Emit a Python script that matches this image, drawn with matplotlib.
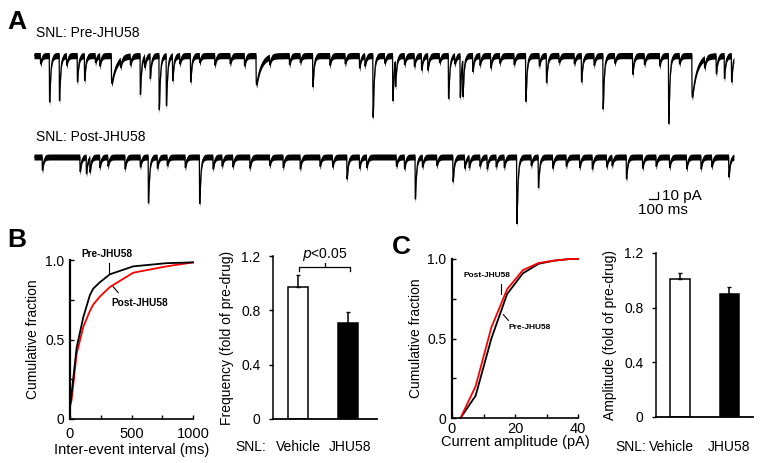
import numpy as np
import matplotlib.pyplot as plt

plt.rcParams['font.family'] = ['Liberation Sans', 'DejaVu Sans']

# ---- panel A: events (time s, amplitude pA) ----
pre_times = [0.17, 0.28, 0.48, 0.56, 0.86, 1.18, 1.29, 1.39, 1.47, 1.54, 1.74, 2.47,
             3.10, 3.62, 3.77, 3.99, 4.02, 4.31, 4.38, 4.61, 4.74, 4.77, 4.88, 5.08,
             5.47, 5.70, 6.09, 6.33, 6.66, 7.06, 7.32, 7.59, 7.68, 7.76]
pre_amps = [67, 65, 38, 36, 40, 56, 33, 78, 72, 36, 38, 42,
            45, 18, 89, 65, 38, 21, 21, 62, 60, 53, 23, 18,
            66, 39, 38, 77, 27, 98, 60, 26, 33, 38]
pre_slow = [0.86, 2.47, 7.32]
pre_small_times = [0.07, 0.36, 0.68, 0.73, 0.96, 1.07, 1.23, 1.62, 1.84, 2.01, 2.18, 2.34,
                   2.62, 2.84, 2.96, 3.29, 3.46, 3.68, 3.90, 4.12, 4.23, 4.51, 4.68, 4.96,
                   5.18, 5.34, 5.62, 5.84, 6.01, 6.23, 6.46, 6.79, 6.96, 7.18, 7.46]
pre_small_amps = [12, 14, 10, 15, 11, 13, 16, 12, 10, 14, 12, 15,
                  11, 13, 10, 14, 12, 15, 11, 13, 16, 10, 12, 14,
                  11, 13, 15, 10, 12, 14, 11, 13, 15, 12, 14]

post_times = [0.09, 0.51, 0.58, 0.62, 1.27, 1.84, 3.48, 4.24, 4.66, 5.37, 5.61, 6.59, 7.42, 7.73]
post_amps = [20, 22, 25, 22, 69, 70, 33, 63, 37, 100, 46, 33, 18, 30]
post_small_times = [0.73, 0.82, 1.01, 1.18, 1.37, 1.48, 1.68, 1.99, 2.09, 2.21, 2.40, 2.62,
                    2.77, 2.96, 3.18, 3.32, 3.62, 3.70, 4.03, 4.12, 4.32, 4.48, 4.79, 4.84,
                    4.96, 5.04, 5.14, 5.23, 5.53, 5.77, 5.92, 6.07, 6.21, 6.37, 6.43, 6.77,
                    6.92, 7.07, 7.26, 7.54]
post_small_amps = [16, 14, 18, 15, 17, 13, 16, 18, 14, 15, 17, 13,
                   16, 18, 14, 15, 17, 16, 14, 18, 15, 13, 17, 16,
                   14, 18, 15, 16, 13, 17, 14, 16, 18, 15, 13, 17,
                   14, 16, 18, 15]

# ---- panel B ----
iei_ms = [0, 13, 54, 108, 162, 189, 243, 324, 514, 784, 1000]
iei_pre = [0.08, 0.16, 0.45, 0.64, 0.78, 0.82, 0.86, 0.91, 0.96, 0.98, 0.985]
iei_post = [0.08, 0.12, 0.41, 0.58, 0.68, 0.72, 0.77, 0.83, 0.92, 0.96, 0.985]
groups = ['Vehicle', 'JHU58']
freq_mean = [0.97, 0.71]
freq_sem = [0.09, 0.075]

# ---- panel C ----
amp_pa = [2.7, 7.5, 12.5, 17.5, 22.5, 27.5, 32.5, 37.5, 40]
amp_pre = [0, 0.14, 0.50, 0.78, 0.91, 0.97, 0.99, 1.0, 1.0]
amp_post = [0, 0.20, 0.57, 0.81, 0.93, 0.975, 0.99, 1.0, 1.0]
ampl_mean = [1.01, 0.90]
ampl_sem = [0.045, 0.05]

W, H = 762, 463
fig = plt.figure(figsize=(W / 100, H / 100), dpi=100)
FS = 10


def box(l, t, r, b):
    return [l / W, 1 - b / H, (r - l) / W, (b - t) / H]


def trace(t, times, amps, slow):
    y = np.zeros_like(t)
    for t0, a in zip(times, amps):
        tau = 0.05 if t0 in slow else 0.012
        s = t - t0
        m = s > 0
        k = np.exp(-s[m] / tau) - np.exp(-s[m] / 0.002)
        y[m] -= a * k / k.max()
    return y


T = 7.79
t = np.arange(0, T, 0.001)
band = 4.5

axA1 = fig.add_axes(box(34, 40, 734, 125))
yA1 = trace(t, pre_times + pre_small_times, pre_amps + pre_small_amps, pre_slow)
axA1.fill_between(t, yA1 - band, yA1 + band, color='black', lw=0)
axA1.plot(t, yA1, color='black', lw=0.9)
axA1.set_xlim(0, T)
axA1.set_ylim(-100, 22.5)
axA1.axis('off')

axA2 = fig.add_axes(box(34, 142, 734, 232))
yA2 = trace(t, post_times + post_small_times, post_amps + post_small_amps, [])
axA2.fill_between(t, yA2 - band, yA2 + band, color='black', lw=0)
axA2.plot(t, yA2, color='black', lw=0.9)
axA2.set_xlim(0, T)
axA2.set_ylim(-112.5, 22.5)
axA2.axis('off')
# scale bar 100 ms / 10 pA
axA2.plot([6.84, 6.94, 6.94], [-63, -63, -53], color='black', lw=0.9)
axA2.text(6.99, -58, '10 pA', fontsize=11, va='center', ha='left')
axA2.text(6.72, -80, '100 ms', fontsize=11, va='center', ha='left')

fig.text(36 / W, 1 - 33 / H, 'SNL: Pre-JHU58', fontsize=10, va='center')
fig.text(36 / W, 1 - 137 / H, 'SNL: Post-JHU58', fontsize=10, va='center')
fig.text(7 / W, 1 - 22 / H, 'A', fontsize=19, fontweight='bold', va='center')
fig.text(7 / W, 1 - 240 / H, 'B', fontsize=19, fontweight='bold', va='center')
fig.text(392 / W, 1 - 247 / H, 'C', fontsize=19, fontweight='bold', va='center')


def cum_style(ax):
    for s in ['top', 'right']:
        ax.spines[s].set_visible(False)
    ax.spines['left'].set_linewidth(1.6)
    ax.spines['bottom'].set_linewidth(1.2)
    ax.tick_params(direction='in', length=3, width=1, labelsize=FS, pad=4)
    ax.tick_params(axis='x', labelsize=10.5, pad=6)


def bar_style(ax):
    for s in ['top', 'right']:
        ax.spines[s].set_visible(False)
    ax.spines['left'].set_linewidth(1.1)
    ax.spines['bottom'].set_linewidth(1.3)
    ax.tick_params(axis='y', direction='out', length=3, width=1, labelsize=FS, pad=6)
    ax.set_xticks([])


# B cumulative
axB1 = fig.add_axes(box(70, 260, 193, 419))
axB1.plot(iei_ms, iei_post, color='red', lw=1.3, clip_on=False)
axB1.plot(iei_ms, iei_pre, color='black', lw=1.3, clip_on=False)
axB1.set_xlim(0, 1000)
axB1.set_ylim(0, 1)
axB1.set_xticks([0, 250, 500, 750, 1000])
axB1.set_xticklabels(['0', '', '500', '', '1000'])
axB1.set_yticks([0, 0.25, 0.5, 0.75, 1.0])
axB1.set_yticklabels(['0', '', '0.5', '', '1.0'])
cum_style(axB1)
axB1.set_xlabel('Inter-event interval (ms)', fontsize=10.5, labelpad=1)
axB1.set_ylabel('Cumulative fraction', fontsize=FS, labelpad=4)
axB1.text(89, 1.04, 'Pre-JHU58', fontsize=7.3, fontweight='bold', va='center')
axB1.plot([319, 319], [0.98, 0.915], color='black', lw=0.8, clip_on=False)
axB1.text(338, 0.727, 'Post-JHU58', fontsize=7.3, fontweight='bold', va='center')
axB1.plot([351, 392], [0.832, 0.795], color='black', lw=0.8)

# B bars
axB2 = fig.add_axes(box(273, 256, 377, 419))
x = np.arange(len(groups))
axB2.bar(x, freq_mean, width=0.4, color=['white', 'black'], edgecolor='black', lw=1.1)
axB2.errorbar(x, freq_mean, yerr=[[0, 0], freq_sem], fmt='none', ecolor='black',
              elinewidth=1.1, capsize=1.5)
axB2.set_xlim(-0.5, 1.58)
axB2.set_ylim(0, 1.2)
axB2.set_yticks([0, 0.4, 0.8, 1.2])
axB2.set_yticklabels(['0', '0.4', '0.8', '1.2'])
bar_style(axB2)
axB2.set_ylabel('Frequency (fold of pre-drug)', fontsize=FS, labelpad=5)
axB2.text(-1.26, -0.205, 'SNL:', fontsize=FS, va='center', clip_on=False)
axB2.text(0, -0.205, groups[0], fontsize=FS, va='center', ha='center')
axB2.text(1.04, -0.205, groups[1], fontsize=FS, va='center', ha='center')
axB2.plot([0.02, 0.02, 1.04, 1.04], [1.09, 1.12, 1.12, 1.09], color='black', lw=0.9)
axB2.plot([0.54, 0.54], [1.12, 1.15], color='black', lw=0.9)
axB2.text(0.54, 1.21, r'$p$<0.05', fontsize=FS, ha='center', va='center')

# C cumulative
axC1 = fig.add_axes(box(452, 259, 578, 418))
axC1.plot(amp_pa, amp_pre, color='black', lw=1.3, clip_on=False)
axC1.plot(amp_pa, amp_post, color='red', lw=1.3, clip_on=False)
axC1.set_xlim(0, 40)
axC1.set_ylim(0, 1)
axC1.set_xticks([0, 10, 20, 30, 40])
axC1.set_xticklabels(['0', '', '20', '', '40'])
axC1.set_yticks([0, 0.25, 0.5, 0.75, 1.0])
axC1.set_yticklabels(['0', '', '0.5', '', '1.0'])
cum_style(axC1)
axC1.tick_params(axis='x', pad=3)
axC1.set_xlabel('Current amplitude (pA)', fontsize=10.5, labelpad=-1)
axC1.set_ylabel('Cumulative fraction', fontsize=FS, labelpad=3)
axC1.text(3.5, 0.895, 'Post-JHU58', fontsize=6, fontweight='bold', va='center')
axC1.plot([15.6, 15.6], [0.84, 0.78], color='black', lw=0.8)
axC1.text(17.9, 0.572, 'Pre-JHU58', fontsize=6, fontweight='bold', va='center')
axC1.plot([16.3, 17.9], [0.65, 0.614], color='black', lw=0.8)

# C bars
axC2 = fig.add_axes(box(656, 253, 753, 417))
axC2.bar(x, ampl_mean, width=0.4, color=['white', 'black'], edgecolor='black', lw=1.1)
axC2.errorbar(x, ampl_mean, yerr=[[0, 0], ampl_sem], fmt='none', ecolor='black',
              elinewidth=1.1, capsize=1.5)
axC2.set_xlim(-0.485, 1.475)
axC2.set_ylim(0, 1.2)
axC2.set_yticks([0, 0.4, 0.8, 1.2])
axC2.set_yticklabels(['0', '0.4', '0.8', '1.2'])
bar_style(axC2)
axC2.set_ylabel('Amplitude (fold of pre-drug)', fontsize=FS, labelpad=5)
axC2.text(-1.3, -0.22, 'SNL:', fontsize=FS, va='center')
axC2.text(-0.17, -0.22, groups[0], fontsize=FS, va='center', ha='center')
axC2.text(0.99, -0.22, groups[1], fontsize=FS, va='center', ha='center')

fig.savefig('out.png', dpi=100)
